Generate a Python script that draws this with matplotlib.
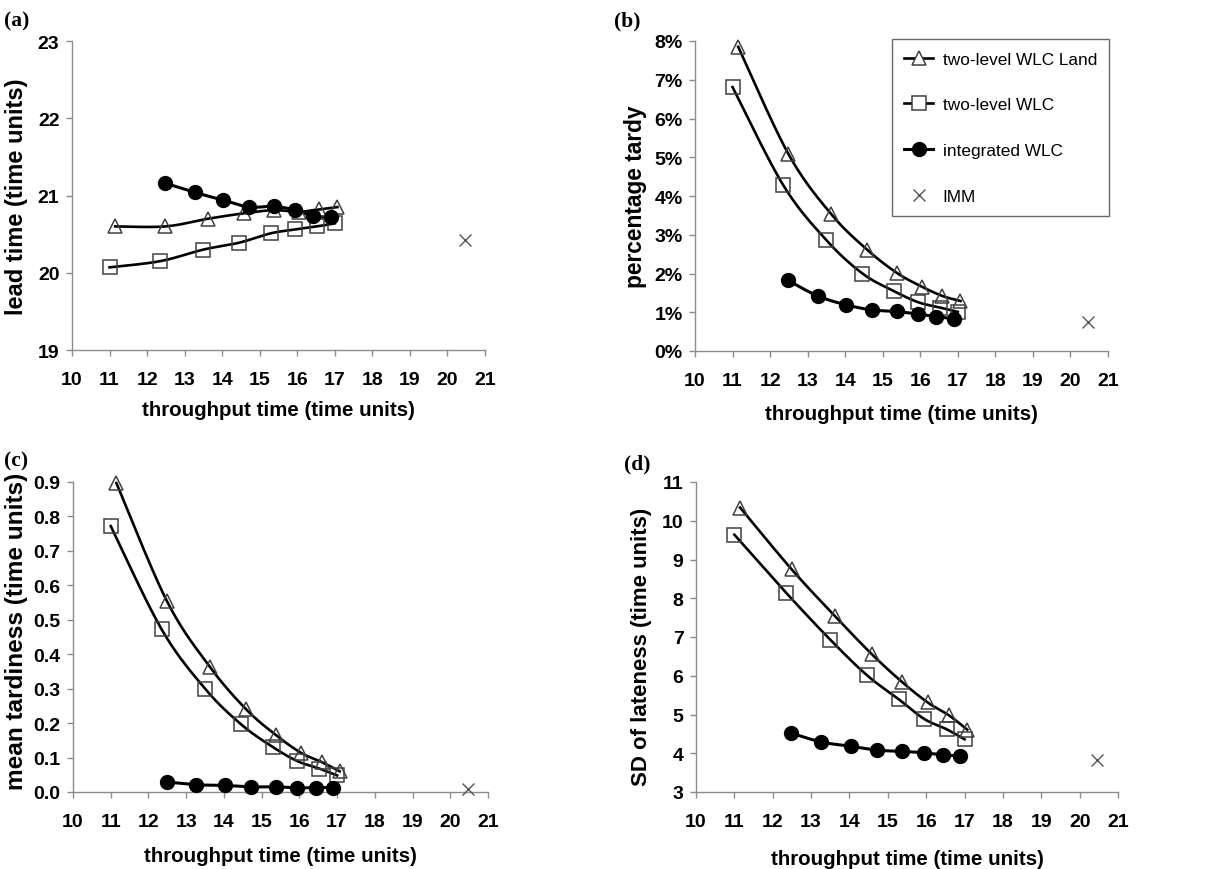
import numpy as np
import matplotlib
matplotlib.use("Agg")
import matplotlib.pyplot as plt
from matplotlib.ticker import FuncFormatter
from matplotlib.lines import Line2D

plt.rcParams['font.family'] = ['Liberation Sans', 'DejaVu Sans']

# ---- data ----
x_land = [11.15, 12.49, 13.63, 14.59, 15.37, 16.04, 16.59, 17.07]
x_two = [11.00, 12.35, 13.50, 14.46, 15.29, 15.94, 16.53, 17.00]
x_int = [12.48, 13.27, 14.03, 14.72, 15.37, 15.95, 16.43, 16.89]
x_imm = [20.46]

lead_land = [20.60, 20.60, 20.70, 20.77, 20.81, 20.79, 20.82, 20.85]
lead_two = [20.07, 20.15, 20.30, 20.39, 20.51, 20.56, 20.60, 20.64]
lead_int = [21.16, 21.04, 20.94, 20.85, 20.86, 20.81, 20.73, 20.72]
lead_imm = [20.43]

tardy_land = [7.85, 5.08, 3.53, 2.61, 2.02, 1.66, 1.42, 1.29]
tardy_two = [6.81, 4.28, 2.86, 2.00, 1.55, 1.26, 1.12, 1.01]
tardy_int = [1.82, 1.42, 1.19, 1.06, 1.02, 0.95, 0.89, 0.83]
tardy_imm = [0.75]

mt_land = [0.897, 0.554, 0.363, 0.240, 0.166, 0.114, 0.087, 0.060]
mt_two = [0.772, 0.472, 0.300, 0.196, 0.131, 0.090, 0.068, 0.048]
mt_int = [0.029, 0.021, 0.019, 0.015, 0.015, 0.012, 0.013, 0.013]
mt_imm = [0.010]

sd_land = [10.34, 8.75, 7.53, 6.55, 5.84, 5.31, 4.98, 4.61]
sd_two = [9.64, 8.14, 6.93, 6.01, 5.39, 4.89, 4.62, 4.36]
sd_int = [4.52, 4.29, 4.18, 4.08, 4.05, 4.01, 3.96, 3.93]
sd_imm = [3.82]

series_names = ["two-level WLC Land", "two-level WLC", "integrated WLC", "IMM"]
x_ticks = list(range(10, 22))


def smooth(xs, ys, n=30):
    """Excel-like smoothed line (Catmull-Rom style Bezier) through data points."""
    P = np.column_stack([xs, ys]).astype(float)
    m = len(P)
    out = [P[0]]
    t = np.linspace(0, 1, n)[1:, None]
    for i in range(m - 1):
        p0 = P[i - 1] if i > 0 else P[i]
        p1 = P[i]
        p2 = P[i + 1]
        p3 = P[i + 2] if i + 2 < m else P[i + 1]
        b1 = p1 + (p2 - p0) / 6.0
        b2 = p2 - (p3 - p1) / 6.0
        seg = ((1 - t) ** 3) * p1 + 3 * ((1 - t) ** 2) * t * b1 + 3 * (1 - t) * t ** 2 * b2 + t ** 3 * p2
        out.extend(seg)
    out = np.array(out)
    return out[:, 0], out[:, 1]


W, H = 1223, 870
fig = plt.figure(figsize=(W / 100, H / 100), dpi=100)

# axes rectangles in pixels: (left, right, top, bottom)
rects = {
    'a': (72, 485, 42, 351),
    'b': (695, 1108, 42, 352),
    'c': (73, 488, 483, 793),
    'd': (696, 1118, 483, 793),
}

panels = [
    ('a', lead_land, lead_two, lead_int, lead_imm, (19, 23), [19, 20, 21, 22, 23],
     "lead time (time units)", lambda v, p: f"{v:.0f}"),
    ('b', tardy_land, tardy_two, tardy_int, tardy_imm, (0, 8), list(range(0, 9)),
     "percentage tardy", lambda v, p: f"{v:.0f}%"),
    ('c', mt_land, mt_two, mt_int, mt_imm, (0, 0.9), list(np.round(np.arange(0, 0.91, 0.1), 1)),
     "mean tardiness (time units)", lambda v, p: f"{v:.1f}"),
    ('d', sd_land, sd_two, sd_int, sd_imm, (3, 11), list(range(3, 12)),
     "SD of lateness (time units)", lambda v, p: f"{v:.0f}"),
]

letter_pos = {'a': (4, 21), 'b': (614, 21), 'c': (4, 461), 'd': (624, 464)}
# style per panel: (ylabel size, ylabel y centre in axes coords, xlabel pad, ylabel x in px from axis)
label_style = {
    'a': (17.0, 0.50, 9, -44),
    'b': (16.4, 0.50, 11, -48),
    'c': (17.6, 0.52, 12, -45),
    'd': (16.0, 0.47, 14, -44),
}

spine_col = '#8c8c8c'
mk_edge = '#404040'

for key, yl, yt, yi, yimm, ylim, yticks, ylabel, fmt in panels:
    l, r, t, b = rects[key]
    ax = fig.add_axes([l / W, 1 - b / H, (r - l) / W, (b - t) / H])
    ax.set_xlim(10, 21)
    ax.set_ylim(*ylim)
    ax.set_xticks(x_ticks)
    ax.set_yticks(yticks)
    ax.yaxis.set_major_formatter(FuncFormatter(fmt))
    for s in ['top', 'right']:
        ax.spines[s].set_visible(False)
    for s in ['left', 'bottom']:
        ax.spines[s].set_color(spine_col)
        ax.spines[s].set_linewidth(1.0)
    ax.tick_params(axis='both', direction='out', length=4, width=1.0, color=spine_col,
                   labelsize=14)
    ax.tick_params(axis='x', pad=11)
    ax.tick_params(axis='y', pad=5)
    for lab in ax.get_xticklabels() + ax.get_yticklabels():
        lab.set_fontweight('bold')
    ysz, ypos, xpad, yx = label_style[key]
    ax.set_xlabel("throughput time (time units)", fontsize=14.8, fontweight='bold', labelpad=xpad)
    ax.set_ylabel(ylabel, fontsize=ysz, fontweight='bold')
    ax.yaxis.set_label_coords(yx / (r - l), ypos)

    # lines
    sx, sy = smooth(x_land, yl)
    ax.plot(sx, sy, color='black', lw=1.9, zorder=2, clip_on=False)
    sx, sy = smooth(x_two, yt)
    ax.plot(sx, sy, color='black', lw=1.9, zorder=2, clip_on=False)
    sx, sy = smooth(x_int, yi)
    ax.plot(sx, sy, color='black', lw=2.2, zorder=2, clip_on=False)

    # markers
    ax.plot(x_land, yl, linestyle='none', marker='^', ms=9.5, mfc='none', mec=mk_edge, mew=1.1,
            zorder=3, clip_on=False)
    ax.plot(x_two, yt, linestyle='none', marker='s', ms=9.5, mfc='none', mec=mk_edge, mew=1.1,
            zorder=3, clip_on=False)
    ax.plot(x_int, yi, linestyle='none', marker='o', ms=10, mfc='black', mec='black',
            zorder=3, clip_on=False)
    ax.plot(x_imm, yimm, linestyle='none', marker='x', ms=9, mec='#555555', mew=1.0,
            zorder=3, clip_on=False)

    lx, ly = letter_pos[key]
    fig.text(lx / W, 1 - ly / H, f"({key})", fontsize=15.5, fontweight='bold',
             family=['Liberation Serif', 'DejaVu Serif'], ha='left', va='center')

    if key == 'b':
        handles = [
            Line2D([], [], color='black', lw=1.9, marker='^', ms=9.5, mfc='white', mec=mk_edge, mew=1.1),
            Line2D([], [], color='black', lw=1.9, marker='s', ms=9.5, mfc='white', mec=mk_edge, mew=1.1),
            Line2D([], [], color='black', lw=2.2, marker='o', ms=10, mfc='black', mec='black'),
            Line2D([], [], linestyle='none', marker='x', ms=9, mec='#555555', mew=1.0),
        ]
        leg = ax.legend(handles, series_names, loc='upper right', bbox_to_anchor=(1.003, 1.005),
                        frameon=True, fancybox=False, edgecolor='#404040', fontsize=12.4,
                        labelspacing=1.78, handlelength=1.7, handletextpad=0.55,
                        borderpad=0.7, borderaxespad=0.0)
        leg.get_frame().set_linewidth(1.0)

fig.savefig("out.png", dpi=100)
